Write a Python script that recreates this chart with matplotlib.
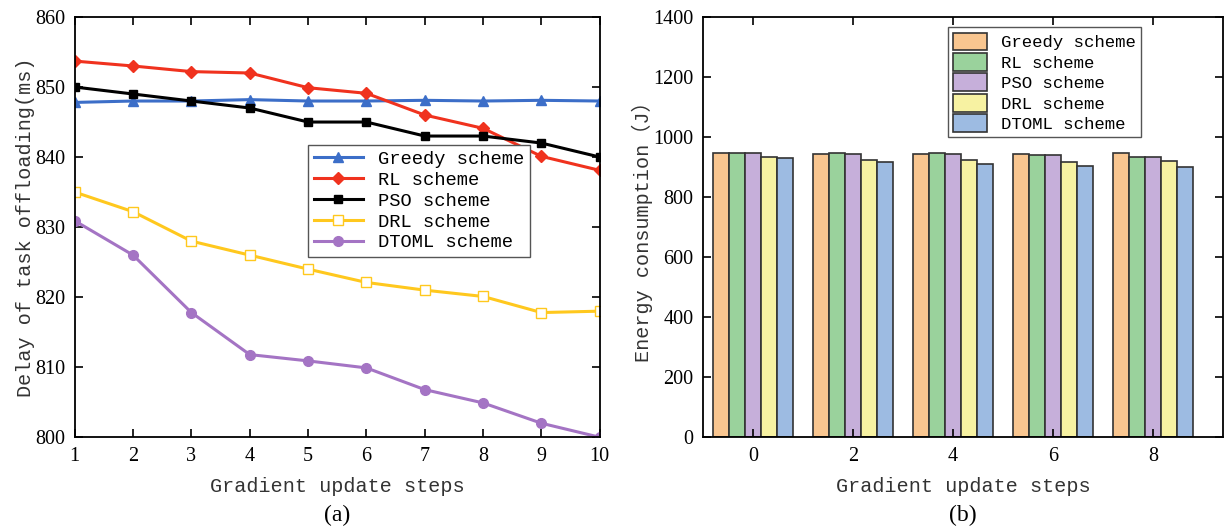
import matplotlib
matplotlib.use("Agg")
import matplotlib.pyplot as plt
import numpy as np

# (a) delay of task offloading
steps = [1, 2, 3, 4, 5, 6, 7, 8, 9, 10]
greedy_delay = [847.8, 848.0, 848.0, 848.2, 848.0, 848.0, 848.1, 848.0, 848.1, 848.0]
rl_delay = [853.7, 853.0, 852.2, 852.0, 849.9, 849.1, 846.0, 844.1, 840.1, 838.1]
pso_delay = [850.0, 849.0, 848.0, 847.0, 845.0, 845.0, 843.0, 843.0, 842.0, 840.0]
drl_delay = [835.0, 832.2, 828.0, 826.0, 824.0, 822.1, 821.0, 820.1, 817.8, 818.0]
dtoml_delay = [830.9, 826.0, 817.8, 811.8, 810.9, 809.9, 806.8, 804.9, 802.0, 800.0]

# (b) energy consumption
groups = [0, 2, 4, 6, 8]
greedy_energy = [946, 944, 945, 943, 946]
rl_energy = [946, 947, 947, 941, 934]
pso_energy = [946, 944, 943, 941, 934]
drl_energy = [933, 922, 922, 917, 919]
dtoml_energy = [929, 917, 910, 903, 901]

names = ["Greedy scheme", "RL scheme", "PSO scheme", "DRL scheme", "DTOML scheme"]

mono = ["Liberation Mono", "Noto Sans CJK SC"]
serif = "Liberation Serif"

fig = plt.figure(figsize=(12.25, 5.30), dpi=100)
ax1 = fig.add_axes([0.061, 0.175, 0.4286, 0.793])
ax2 = fig.add_axes([0.574, 0.175, 0.4245, 0.793])

# ---- left: lines
ax1.plot(steps, greedy_delay, color="#3c6ec8", lw=2.2, marker="^", ms=7, label=names[0])
ax1.plot(steps, rl_delay, color="#f0321e", lw=2.2, marker="D", ms=6, label=names[1])
ax1.plot(steps, pso_delay, color="black", lw=2.2, marker="s", ms=6, label=names[2])
ax1.plot(steps, drl_delay, color="#ffc81e", lw=2.2, marker="s", ms=7,
         markerfacecolor="white", label=names[3])
ax1.plot(steps, dtoml_delay, color="#a474c4", lw=2.2, marker="o", ms=7, label=names[4])

ax1.set_xlim(1, 10)
ax1.set_ylim(800, 860)
ax1.set_xticks(steps)
ax1.set_yticks(range(800, 861, 10))
ax1.tick_params(direction="in", top=True, right=True, length=6, width=1.2,
                labelsize=14.5, pad=7)
ax1.set_xlabel("Gradient update steps", family=mono, fontsize=14.5, color="#333333",
               labelpad=8)
ax1.set_ylabel("Delay of task offloading(ms)", family=mono, fontsize=14.5, color="#333333",
               labelpad=0)
leg1 = ax1.legend(loc="upper left", bbox_to_anchor=(0.445, 0.695), prop={"family": mono, "size": 13.5},
                  fancybox=False, edgecolor="#555555", handlelength=2.6, borderpad=0.3,
                  labelspacing=0.2, borderaxespad=0, framealpha=1)
ax1.text(0.5, -0.186, "(a)", transform=ax1.transAxes, ha="center", va="center",
         family=serif, fontsize=17)

# ---- right: grouped bars
bar_colors = ["#f9c690", "#9ad29c", "#c6afda", "#f7f2a2", "#9dbbe2"]
series = [greedy_energy, rl_energy, pso_energy, drl_energy, dtoml_energy]
w = 0.32
x = np.array(groups, dtype=float)
for i, (vals, c) in enumerate(zip(series, bar_colors)):
    ax2.bar(x + (i - 2) * w, vals, width=w, color=c, edgecolor="#333333",
            linewidth=1.2, label=names[i])

ax2.set_xlim(-1.0, 9.4)
ax2.set_ylim(0, 1400)
ax2.set_xticks(groups)
ax2.set_yticks(range(0, 1401, 200))
ax2.tick_params(direction="in", top=True, right=True, length=6, width=1.2,
                labelsize=14.5, pad=7)
ax2.set_xlabel("Gradient update steps", family=mono, fontsize=14.5, color="#333333",
               labelpad=8)
ax2.set_ylabel("Energy consumption（J）", family=mono, fontsize=14.5, color="#333333",
               labelpad=0)
leg2 = ax2.legend(loc="upper left", bbox_to_anchor=(0.47, 0.975), prop={"family": mono, "size": 12.5},
                  fancybox=False, edgecolor="#555555", handlelength=2.0, handleheight=1.2,
                  borderpad=0.3, labelspacing=0.15, borderaxespad=0, framealpha=1)
ax2.text(0.5, -0.186, "(b)", transform=ax2.transAxes, ha="center", va="center",
         family=serif, fontsize=17)

for ax in (ax1, ax2):
    for s in ax.spines.values():
        s.set_linewidth(1.3)
    for lab in ax.get_xticklabels() + ax.get_yticklabels():
        lab.set_family(serif)

fig.savefig("out.png", dpi=100)
